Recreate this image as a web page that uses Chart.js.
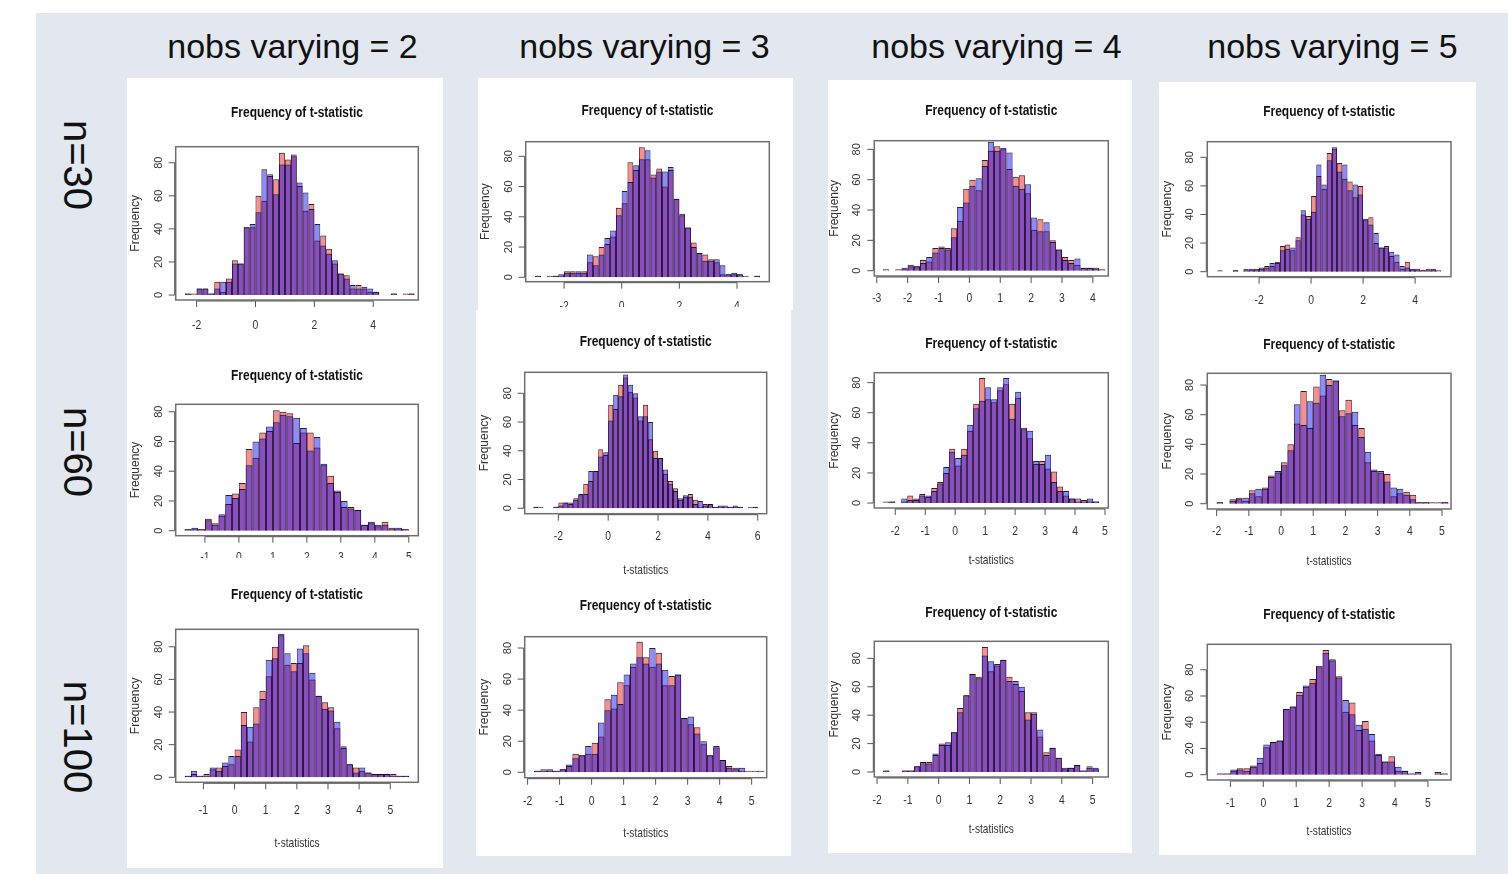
<!DOCTYPE html>
<html>
<head>
<title>Frequency of t-statistic - grid</title>
<script src="https://cdn.jsdelivr.net/npm/chart.js"></script>
<style>
    body { margin: 0; width: 1508px; height: 874px; position: relative; overflow: hidden; background: #fff;
           font-family: 'Liberation Sans', Arial, Helvetica, sans-serif; }
    .bg { position: absolute; left: 36px; top: 13px; right: 0; bottom: 0; background: #e3e8f0; }
    .card { position: absolute; background: #fff; }
    .coltitle { position: absolute; top: 26px; font-size: 34px; line-height: 40px; color: #111;
                white-space: nowrap; transform: translateX(-50%); }
    .rowtitle { position: absolute; font-size: 40px; line-height: 40px; color: #111; white-space: nowrap;
                transform: translate(-50%, -50%) rotate(90deg); }
    canvas { position: absolute; }
</style>
</head>
<body>
<div class="bg"></div>

<script>
// ---- data (counts per 0.2-wide bin) ----
const binWidth = 0.2;
const yTicks = [0, 20, 40, 60, 80];
const colTitles = ['nobs varying = 2', 'nobs varying = 3', 'nobs varying = 4', 'nobs varying = 5'];
const rowTitles = ['n=30', 'n=60', 'n=100'];

// n=30, nobs varying = 2
const n30v2Start = -2.4;
const n30v2Red  = [1,1,4,4,1,8,2,10,21,19, 41,41,60,57,73,70,86,82,85,66, 51,55,33,36,28,19,13,12,4,6, 4,2,2,0,0,1,0,1,1];
const n30v2Blue = [1,0,4,4,1,4,8,8,19,19, 41,43,50,76,72,61,79,79,84,68, 62,52,43,30,25,21,13,10,6,4, 5,4,2,0,0,1,0,0,1];
const n30v2Ticks = [-2, 0, 2, 4];
// n=60, nobs varying = 2
const n60v2Start = -1.6;
const n60v2Red  = [1,1,1,8,5,10,18,25,32,55, 49,66,67,81,80,79,59,66,66,56, 44,37,27,16,16,14,4,5,3,6, 2,1,1];
const n60v2Blue = [1,2,1,7,4,11,24,22,28,44, 60,62,70,73,78,77,76,69,54,63, 45,32,26,20,15,14,4,6,4,4, 1,2,1];
const n60v2Ticks = [-1, 0, 1, 2, 3, 4, 5];
// n=100, nobs varying = 2
const n100v2Start = -1.6;
const n100v2Red  = [1,2,1,2,5,6,7,8,17,40, 22,43,53,62,80,87,69,70,70,81, 60,50,46,43,30,18,8,6,4,3, 2,2,2,2,1,1];
const n100v2Blue = [1,4,1,1,6,4,9,13,13,32, 31,33,48,72,73,88,76,65,79,76, 64,50,42,41,34,19,8,3,6,3, 2,2,2,1,1,1];
const n100v2Ticks = [-1, 0, 1, 2, 3, 4, 5];

// n=30, nobs varying = 3
const n30v3Start = -3.0;
const n30v3Red  = [1,0,1,1,1,4,4,3,4,10, 14,20,22,27,46,49,76,71,86,78, 68,72,60,71,52,42,33,23,16,15, 12,10,2,2,2,2,1,0,1];
const n30v3Blue = [1,0,0,1,2,3,3,4,3,15, 8,15,26,31,41,57,63,74,78,84, 66,70,70,73,52,41,33,20,16,11, 11,12,8,2,3,2,0,0,1];
const n30v3Ticks = [-2, 0, 2, 4];
// n=60, nobs varying = 3
const n60v3Start = -3.0;
const n60v3Red  = [1,0,0,0,1,4,4,3,7,9, 17,19,26,41,37,72,69,86,91,81, 77,61,72,48,40,35,24,19,14,6, 8,10,6,1,3,3,1,1,2,1, 1,1,0,0,1];
const n60v3Blue = [1,1,0,0,1,2,4,4,6,10, 10,26,26,36,39,61,79,78,93,86, 80,64,64,60,35,35,27,17,12,7, 9,8,3,5,2,3,1,2,1,1, 2,1,0,1,1];
const n60v3Ticks = [-2, 0, 2, 4, 6];
// n=100, nobs varying = 3
const n100v3Start = -1.8;
const n100v3Red  = [1,2,1,1,2,4,12,11,12,19, 23,47,41,58,56,68,84,74,68,77, 56,62,63,35,31,29,18,11,16,8, 4,3,1,1,1,0];
const n100v3Blue = [1,1,2,1,2,5,9,11,17,12, 32,40,50,44,63,70,74,70,80,70, 66,56,63,35,36,25,20,11,17,8, 3,2,3,0,0,1];
const n100v3Ticks = [-2, -1, 0, 1, 2, 3, 4, 5];

// n=30, nobs varying = 4
const n30v4Start = -2.8;
const n30v4Red  = [1,0,1,1,4,3,7,6,15,16, 15,28,33,54,60,53,73,79,82,80, 67,62,63,51,27,34,26,20,14,9, 7,4,2,2,2,0];
const n30v4Blue = [0,0,0,2,3,3,5,9,12,15, 14,22,42,45,56,61,69,85,79,81, 78,56,54,57,35,26,32,19,14,7, 5,8,2,2,1,1];
const n30v4Ticks = [-3, -2, -1, 0, 1, 2, 3, 4];
// n=60, nobs varying = 4
const n60v4Start = -2.4;
const n60v4Red  = [1,1,0,1,5,3,6,4,10,14, 20,36,25,36,48,66,83,69,67,75, 79,66,70,50,43,26,28,23,21,11, 5,3,3,2,1,1];
const n60v4Blue = [0,1,0,3,2,2,5,5,8,13, 24,34,30,32,52,63,68,77,69,77, 83,56,74,49,48,28,26,32,14,8, 8,3,1,1,3,1];
const n60v4Ticks = [-2, -1, 0, 1, 2, 3, 4, 5];
// n=100, nobs varying = 4
const n100v4Start = -1.8;
const n100v4Red  = [1,0,0,1,1,4,7,7,12,20, 19,28,45,54,69,67,88,71,75,79, 67,62,57,42,42,25,14,17,10,2, 3,5,1,4,2];
const n100v4Blue = [1,0,0,1,1,4,7,6,13,19, 21,28,42,54,69,66,82,78,76,79, 64,64,60,37,41,30,12,17,10,3, 3,5,1,3,3];
const n100v4Ticks = [-2, -1, 0, 1, 2, 3, 4, 5];

// n=30, nobs varying = 5
const n30v5Start = -3.6;
const n30v5Red  = [1,0,0,1,0,2,1,2,2,4, 4,6,18,19,15,24,40,39,53,67, 58,83,87,76,65,63,52,60,36,38, 20,17,18,11,7,2,7,1,2,1, 2,1,1];
const n30v5Blue = [0,0,0,1,0,1,2,1,3,3, 6,7,15,16,17,22,43,37,42,75, 61,78,86,70,75,57,61,54,37,33, 27,17,17,14,12,4,3,2,1,1, 1,2,0];
const n30v5Ticks = [-2, 0, 2, 4];
// n=60, nobs varying = 5
const n60v5Start = -2.0;
const n60v5Red  = [1,0,3,4,2,9,5,11,19,21, 28,40,54,76,51,79,73,84,83,63, 70,53,51,28,22,22,20,5,7,8, 6,1,1,1,1,1];
const n60v5Blue = [1,0,2,3,4,7,10,10,18,22, 26,36,67,53,69,68,87,80,83,59, 61,62,45,35,23,21,15,11,10,6, 3,1,1,0,0,1];
const n60v5Ticks = [-2, -1, 0, 1, 2, 3, 4, 5];
// n=100, nobs varying = 5
const n100v5Start = -1.4;
const n100v5Red  = [1,1,3,5,5,7,9,21,25,26, 50,52,63,67,73,83,95,87,75,48, 55,34,41,26,15,10,14,3,3,1, 1,0,0,2,1];
const n100v5Blue = [1,1,4,4,3,6,13,23,25,26, 50,52,61,68,70,82,93,88,74,57, 46,38,35,31,16,10,10,6,3,1, 2,0,0,1,1];
const n100v5Ticks = [-1, 0, 1, 2, 3, 4, 5];

// ---- page layout (canvas rect, plot box in page px, axis ranges) ----
const cards = [
    [127, 78, 316, 790],
    [478, 78, 315, 232], [476, 310, 315, 546],
    [828, 80, 304, 773],
    [1159, 82, 317, 773]
];
const panels = [
    { red: n30v2Red,  blue: n30v2Blue,  start: n30v2Start,  ticks: n30v2Ticks,  rect: [127, 85, 316, 262],  box: [175.7, 146.7, 418.3, 300],   xr: [-2.71, 5.53], yr: [-3.0, 89.7],  tDy: 33.4, lDy: 25,   xtDy: 0 },
    { red: n60v2Red,  blue: n60v2Blue,  start: n60v2Start,  ticks: n60v2Ticks,  rect: [127, 352, 316, 206], box: [175.7, 404.3, 418.3, 535.7], xr: [-1.86, 5.28], yr: [-3.36, 85.0], tDy: 28.3, lDy: 21.5, xtDy: 0 },
    { red: n100v2Red, blue: n100v2Blue, start: n100v2Start, ticks: n100v2Ticks, rect: [127, 570, 316, 296], box: [175.7, 629.3, 418.3, 782.3], xr: [-1.89, 5.90], yr: [-3.06, 90.7], tDy: 34.3, lDy: 27.7, xtDy: 61 },
    { red: n30v3Red,  blue: n30v3Blue,  start: n30v3Start,  ticks: n30v3Ticks,  rect: [478, 85, 315, 222],  box: [525.7, 141.7, 769.3, 281.7], xr: [-3.33, 5.12], yr: [-2.9, 89.65], tDy: 30.7, lDy: 25,   xtDy: 0 },
    { red: n60v3Red,  blue: n60v3Blue,  start: n60v3Start,  ticks: n60v3Ticks,  rect: [476, 318, 315, 265], box: [524.7, 372.3, 766.7, 513.7], xr: [-3.35, 6.36], yr: [-3.76, 94.6], tDy: 30.6, lDy: 23,   xtDy: 56.3 },
    { red: n100v3Red, blue: n100v3Blue, start: n100v3Start, ticks: n100v3Ticks, rect: [476, 585, 315, 268], box: [524.7, 636.7, 766.7, 777.7], xr: [-2.09, 5.47], yr: [-3.47, 87.3], tDy: 30.7, lDy: 24,   xtDy: 55.6 },
    { red: n30v4Red,  blue: n30v4Blue,  start: n30v4Start,  ticks: n30v4Ticks,  rect: [828, 88, 304, 225],  box: [874.3, 140.7, 1108.3, 276],  xr: [-3.08, 4.50], yr: [-3.49, 85.7], tDy: 29.7, lDy: 22.3, xtDy: 0 },
    { red: n60v4Red,  blue: n60v4Blue,  start: n60v4Start,  ticks: n60v4Ticks,  rect: [828, 320, 304, 260], box: [874.3, 372.7, 1108.3, 508],  xr: [-2.70, 5.11], yr: [-3.3, 86.6],  tDy: 28.7, lDy: 23,   xtDy: 52 },
    { red: n100v4Red, blue: n100v4Blue, start: n100v4Start, ticks: n100v4Ticks, rect: [828, 588, 304, 260], box: [874.3, 641.3, 1108.3, 777],  xr: [-2.09, 5.51], yr: [-3.5, 92.0],  tDy: 28.3, lDy: 23.7, xtDy: 52.7 },
    { red: n30v5Red,  blue: n30v5Blue,  start: n30v5Start,  ticks: n30v5Ticks,  rect: [1159, 88, 317, 225], box: [1207.3, 141.7, 1451, 276.7], xr: [-3.99, 5.38], yr: [-3.5, 90.9],  tDy: 29.4, lDy: 23.3, xtDy: 0 },
    { red: n60v5Red,  blue: n60v5Blue,  start: n60v5Start,  ticks: n60v5Ticks,  rect: [1159, 320, 317, 260], box: [1207.3, 373.3, 1451, 509],   xr: [-2.29, 5.28], yr: [-3.57, 87.9], tDy: 28.3, lDy: 22.7, xtDy: 52.7 },
    { red: n100v5Red, blue: n100v5Blue, start: n100v5Start, ticks: n100v5Ticks, rect: [1159, 590, 317, 260], box: [1207.3, 644.3, 1451, 780],   xr: [-1.70, 5.70], yr: [-4.04, 99.4], tDy: 29.3, lDy: 23.3, xtDy: 51.7 }
];

cards.forEach(c => {
    const d = document.createElement('div');
    d.className = 'card';
    d.style.cssText = `left:${c[0]}px;top:${c[1]}px;width:${c[2]}px;height:${c[3]}px`;
    document.body.appendChild(d);
});
[292.5, 644.5, 996.5, 1332.5].forEach((x, i) => {
    const d = document.createElement('div');
    d.className = 'coltitle';
    d.style.left = x + 'px';
    d.textContent = colTitles[i];
    document.body.appendChild(d);
});
[165, 452, 737].forEach((y, i) => {
    const d = document.createElement('div');
    d.className = 'rowtitle';
    d.style.left = '78px';
    d.style.top = y + 'px';
    d.textContent = rowTitles[i];
    document.body.appendChild(d);
});

function toBins(start, counts) {
    return counts.map((v, i) => ({ x: start + (i + 0.5) * binWidth, y: v }));
}

function txt(ctx, s, x, y, font, rot, sx, color) {
    ctx.save();
    ctx.translate(x, y);
    if (rot) ctx.rotate(rot);
    ctx.scale(sx || 1, 1);
    ctx.font = font;
    ctx.fillStyle = color || '#333';
    ctx.textAlign = 'center';
    ctx.textBaseline = 'middle';
    ctx.fillText(s, 0, 0);
    ctx.restore();
}

// base-R style frame: box, axes, ticks, titles
function rFrame(p) {
    return {
        id: 'rframe',
        afterDraw(chart) {
            const ctx = chart.ctx, a = chart.chartArea;
            const xs = chart.scales.x, ys = chart.scales.y;
            ctx.save();
            ctx.strokeStyle = '#707070';
            ctx.lineWidth = 1.5;
            ctx.strokeRect(a.left, a.top, a.right - a.left, a.bottom - a.top);

            ctx.strokeStyle = '#555';
            ctx.lineWidth = 1;
            // x axis
            const xa = p.ticks.map(v => xs.getPixelForValue(v));
            const yb = a.bottom + 1;
            ctx.beginPath();
            ctx.moveTo(xa[0], yb); ctx.lineTo(xa[xa.length - 1], yb);
            xa.forEach(x => { ctx.moveTo(x, yb); ctx.lineTo(x, yb + 6); });
            // y axis
            const ya = yTicks.map(v => ys.getPixelForValue(v));
            const xl = a.left - 1;
            ctx.moveTo(xl, ya[0]); ctx.lineTo(xl, ya[ya.length - 1]);
            ya.forEach(y => { ctx.moveTo(xl, y); ctx.lineTo(xl - 6, y); });
            ctx.stroke();
            ctx.restore();

            p.ticks.forEach((v, i) => txt(ctx, String(v), xa[i], a.bottom + p.lDy, '13px "Liberation Sans", Arial, sans-serif', 0, 0.8));
            yTicks.forEach((v, i) => txt(ctx, String(v), a.left - 17, ya[i], '11px "Liberation Sans", Arial, sans-serif', -Math.PI / 2, 1));

            const cx = (a.left + a.right) / 2;
            txt(ctx, 'Frequency of t-statistic', cx, a.top - p.tDy, 'bold 15px "Liberation Sans", Arial, sans-serif', 0, 0.8, '#111');
            txt(ctx, 'Frequency', a.left - 40, (a.top + a.bottom) / 2, '12px "Liberation Sans", Arial, sans-serif', -Math.PI / 2, 1);
            if (p.xtDy) txt(ctx, 't-statistics', cx, a.bottom + p.xtDy, '13px "Liberation Sans", Arial, sans-serif', 0, 0.78);
        }
    };
}

panels.forEach(p => {
    const c = document.createElement('canvas');
    const [cx, cy, cw, ch] = p.rect;
    const [L, T, R, B] = p.box;
    c.width = cw; c.height = ch;
    c.style.left = cx + 'px'; c.style.top = cy + 'px';
    c.style.width = cw + 'px'; c.style.height = ch + 'px';
    document.body.appendChild(c);

    const barStyle = {
        borderColor: 'rgba(15,10,25,0.9)',
        borderWidth: { top: 1, left: 0.8, right: 0.8, bottom: 0 },
        borderSkipped: 'start',
        inflateAmount: 0
    };
    new Chart(c, {
        type: 'bar',
        data: {
            datasets: [
                Object.assign({ label: 'red', data: toBins(p.start, p.red), backgroundColor: 'rgba(255,0,0,0.45)', order: 2 }, barStyle),
                Object.assign({ label: 'blue', data: toBins(p.start, p.blue), backgroundColor: 'rgba(0,0,255,0.45)', order: 1 }, barStyle)
            ]
        },
        options: {
            responsive: false,
            animation: false,
            devicePixelRatio: 1,
            layout: { padding: { left: L - cx, top: T - cy, right: cx + cw - R, bottom: cy + ch - B } },
            datasets: { bar: { grouped: false, categoryPercentage: 1, barPercentage: 1 } },
            scales: {
                x: { type: 'linear', min: p.xr[0], max: p.xr[1], display: false, offset: false,
                     afterBuildTicks: s => { s.ticks = [{ value: s.min }, { value: s.max }]; } },
                y: { type: 'linear', min: p.yr[0], max: p.yr[1], display: false }
            },
            plugins: { legend: { display: false }, tooltip: { enabled: false } }
        },
        plugins: [rFrame(p)]
    });
});
</script>
</body>
</html>
